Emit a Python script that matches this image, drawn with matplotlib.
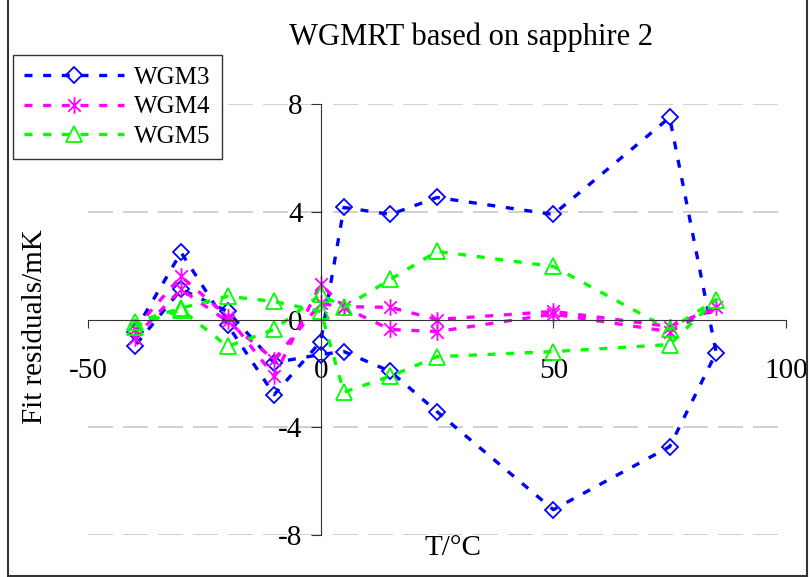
import matplotlib.pyplot as plt
from matplotlib.path import Path
from matplotlib.lines import Line2D

# temperatures: up from -40 to 85 then back down to -40
temps = [-40, -30, -20, -10, 0, 5, 15, 25, 50, 75, 85,
         75, 50, 25, 15, 5, 0, -10, -20, -30, -40]

wgm3 = [-0.45, 2.49, -0.2, -2.79, -0.82, 4.16, 3.9, 4.53, 3.9, 7.5, -1.23,
        -4.72, -7.06, -3.42, -1.93, -1.19, -1.3, -1.6, 0.3, 1.12, -1.0]
wgm4 = [-0.37, 1.6, 0.11, -2.1, 1.3, 0.48, 0.45, 0.0, 0.3, -0.26, 0.45,
        -0.45, 0.2, -0.45, -0.37, 0.45, 0.6, -1.49, -0.07, 1.12, -0.67]
wgm5 = [-0.26, 0.37, -1.0, -0.37, 0.93, 0.45, 1.49, 2.53, 1.97, -0.37, 0.74,
        -0.93, -1.19, -1.38, -2.1, -2.7, 0.3, 0.67, 0.86, 0.42, -0.1]

labels = ["WGM3", "WGM4", "WGM5"]
xticks = [-50, 0, 50, 100]
yticks = [-8, -4, 0, 4, 8]

plt.rcParams['font.family'] = ['Liberation Serif', 'DejaVu Serif']
plt.rcParams['axes.unicode_minus'] = False

# excel style star: vertical bar plus an X
star = Path([(0, -1), (0, 1), (-0.75, -0.75), (0.75, 0.75), (-0.75, 0.75), (0.75, -0.75)],
            [Path.MOVETO, Path.LINETO, Path.MOVETO, Path.LINETO, Path.MOVETO, Path.LINETO])

fig = plt.figure(figsize=(8.11, 5.77), dpi=100)
ax = fig.add_axes([88/811, 1 - 535/577, (786 - 88)/811, (535 - 104)/577])

dash = (2.4, 3.2)
ax.plot(temps, wgm3, color='#0000ff', lw=2.4, dashes=dash, marker='D', ms=8.5,
        mfc='none', mec='#0000ff', mew=1.3, label=labels[0])
ax.plot(temps, wgm4, color='#ff00ff', lw=2.4, dashes=dash, marker=star, ms=12,
        mfc='none', mec='#ff00ff', mew=1.3, label=labels[1])
ax.plot(temps, wgm5, color='#00ff00', lw=2.4, dashes=dash, marker='^', ms=12,
        mfc='none', mec='#00ff00', mew=1.3, label=labels[2])

ax.set_xlim(-50, 100)
ax.set_ylim(-8, 8)
ax.set_xticks(xticks)
ax.set_yticks(yticks)

for y in [-8, -4, 4, 8]:
    ax.axhline(y, color='#c8c8c8', lw=1.2, dashes=(15, 6), zorder=0)

ax.spines['left'].set_position(('data', 0))
ax.spines['bottom'].set_position(('data', 0))
ax.spines['top'].set_visible(False)
ax.spines['right'].set_visible(False)
ax.spines['left'].set_color('#333333')
ax.spines['bottom'].set_color('#333333')
ax.tick_params(axis='x', direction='out', length=6, pad=22, labelsize=21, color='#333333')
ax.tick_params(axis='y', direction='out', length=7, pad=6, labelsize=21, color='#333333')

fig.text(471/811, 1 - 37/577, "WGMRT based on sapphire 2", ha='center', va='center', fontsize=22)
fig.text(453/811, 1 - 548/577, "T/°C", ha='center', va='center', fontsize=21)
fig.text(35/811, 1 - 327/577, "Fit residuals/mK", ha='center', va='center', rotation=90, fontsize=21)

leg = fig.legend(loc='upper left', bbox_to_anchor=(13/811, 1 - 55/577), fontsize=18,
                 frameon=True, fancybox=False, edgecolor='black', handlelength=4.0,
                 handletextpad=0.4, borderpad=0.45, labelspacing=0.28, borderaxespad=0)
leg.get_frame().set_linewidth(1.0)

# outer chart border
fig.add_artist(Line2D([8/811, 8/811], [1/577, 1], color='#333333', lw=1.5))
fig.add_artist(Line2D([807/811, 807/811], [1/577, 1], color='#333333', lw=1.5))
fig.add_artist(Line2D([8/811, 807/811], [1/577, 1/577], color='#333333', lw=1.5))

fig.savefig("out.png", dpi=100)
